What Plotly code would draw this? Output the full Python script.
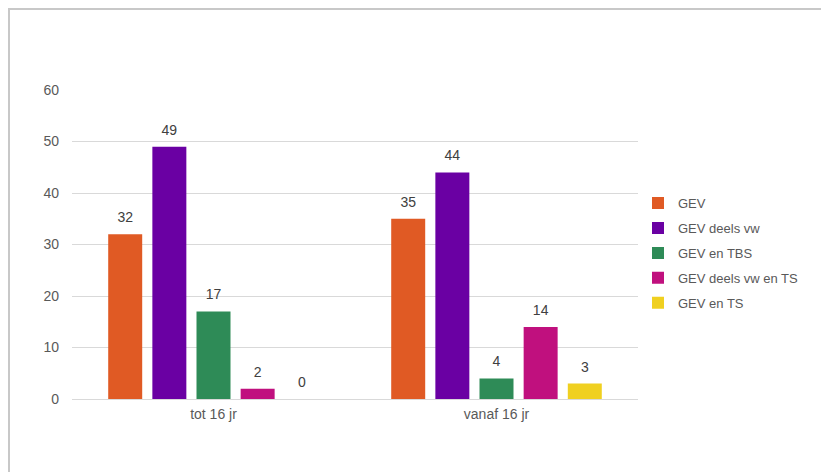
import plotly.graph_objects as go

categories = ["tot 16 jr", "vanaf 16 jr"]
series_names = ["GEV", "GEV deels vw", "GEV en TBS", "GEV deels vw en TS", "GEV en TS"]
values_gev = [32, 35]
values_gev_deels = [49, 44]
values_gev_tbs = [17, 4]
values_gev_deels_ts = [2, 14]
values_gev_ts = [0, 3]
colors = ["#E05A24", "#6A00A3", "#2E8B57", "#C0107E", "#F0D020"]
all_values = [values_gev, values_gev_deels, values_gev_tbs, values_gev_deels_ts, values_gev_ts]

W, H = 829, 472
L, R, T, B = 64, 199, 82, 81
pw, ph = W - L - R, H - T - B

fig = go.Figure()
for i, (name, vals, col) in enumerate(zip(series_names, all_values, colors)):
    fig.add_trace(go.Bar(
        x=categories, y=vals, name=name, legendgroup=name, marker_color=col, marker_line_width=0,
        offsetgroup=str(i), alignmentgroup="a",
    ))
for i, (name, vals) in enumerate(zip(series_names, all_values)):
    fig.add_trace(go.Scatter(
        x=categories, y=vals, mode="markers+text", showlegend=False, hoverinfo="skip",
        marker=dict(size=12, opacity=0), offsetgroup=str(i), alignmentgroup="a",
        text=[str(v) for v in vals], textposition="top center",
        textfont=dict(size=14, color="#404040"), cliponaxis=False,
    ))

fig.update_layout(
    width=W, height=H,
    margin=dict(l=L, r=R, t=T, b=B, pad=0),
    paper_bgcolor="white", plot_bgcolor="white",
    barmode="group", bargap=0.22, bargroupgap=0.23,
    scattermode="group", scattergap=0.22,
    font=dict(family="Liberation Sans, Arial, sans-serif", size=13, color="#595959"),
    showlegend=True,
    legend=dict(x=1.0, xanchor="left", y=0.472, yanchor="middle", font=dict(size=13, color="#595959"),
                itemwidth=30, tracegroupgap=5, bgcolor="rgba(0,0,0,0)"),
    xaxis=dict(showgrid=False, showline=True, linecolor="#d9d9d9", linewidth=1, ticks="",
               ticklabelstandoff=2, tickfont=dict(size=14, color="#595959")),
    yaxis=dict(range=[0, 60], dtick=10, showgrid=True, gridcolor="#d9d9d9", gridwidth=1,
               zeroline=False, showline=False, ticks="", ticklabelstandoff=12,
               tickfont=dict(size=14, color="#595959")),
    shapes=[dict(type="rect", xref="paper", yref="paper",
                 x0=(1 - L) / pw, x1=(W + 10 - L) / pw,
                 y0=(H - B - (H + 10)) / ph, y1=(H - B - 1) / ph,
                 line=dict(color="#c8c8c8", width=2), fillcolor="rgba(0,0,0,0)", layer="below")],
)

fig.write_html("out.html")
